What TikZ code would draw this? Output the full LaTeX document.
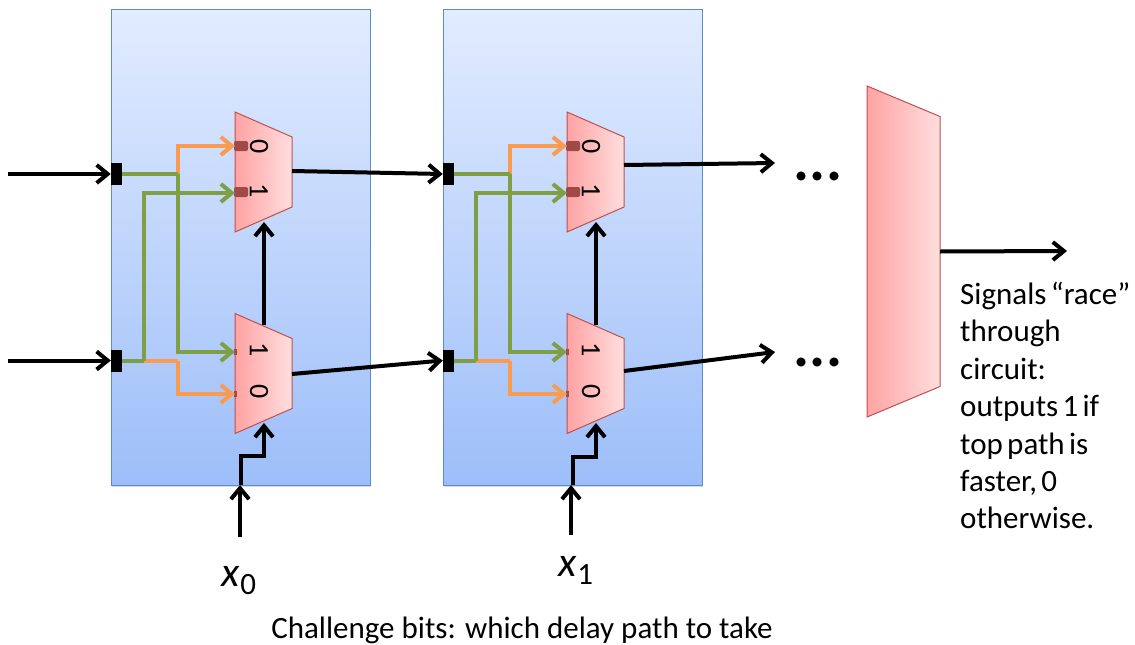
\documentclass[tikz,border=0pt]{standalone}
\usepackage{fontspec}
\setmainfont{Carlito}
\usetikzlibrary{arrows.meta,shapes.geometric,shadows}
\definecolor{blocktop}{HTML}{E2ECFF}
\definecolor{blockbot}{HTML}{9DBEF9}
\definecolor{blockedge}{HTML}{5B8DC8}
\definecolor{muxleft}{HTML}{FFA3A3}
\definecolor{muxright}{HTML}{FFDEDE}
\definecolor{muxedge}{HTML}{C0504D}
\definecolor{wiregreen}{HTML}{7F9F45}
\definecolor{wireorange}{HTML}{F99B50}
\definecolor{padbrown}{HTML}{A04A48}
\tikzset{
  >={Straight Barb[length=11pt,width=18pt]},
  blockbox/.style={rectangle, draw=blockedge, line width=1pt, minimum width=259pt, minimum height=476pt, inner sep=0pt, top color=blocktop, bottom color=blockbot, drop shadow={shadow xshift=0.5pt, shadow yshift=-2pt, opacity=0.3}},
  muxbox/.style={trapezium, shape border rotate=270, trapezium angle=66.3, draw=muxedge, line width=1pt, left color=muxleft, right color=muxright, text width=57pt, text height=70pt, text depth=0pt, inner sep=0pt, outer sep=0pt},
  bigmux/.style={muxbox, trapezium angle=67.3, text width=73pt, text height=270pt},
  portbox/.style={rectangle, fill=black, minimum width=11pt, minimum height=22pt, inner sep=0pt},
  padbox/.style={rectangle, rounded corners=2pt, fill=padbrown, minimum width=14pt, minimum height=10pt, inner sep=0pt},
  tickbox/.style={rectangle, fill=padbrown, minimum width=3pt, minimum height=6pt, inner sep=0pt},
  wire/.style={line width=4pt},
  greenwire/.style={wire, wiregreen},
  orangewire/.style={wire, wireorange},
  bitlabel/.style={rotate=-90, font=\fontsize{28}{28}\selectfont, inner sep=0pt},
  dotslabel/.style={font=\fontsize{60}{60}\bfseries\selectfont, inner sep=0pt},
  caption/.style={font=\fontsize{31}{37.4}\selectfont, inner sep=0pt}
}
\begin{document}
\begin{tikzpicture}[x=1pt, y=-1pt]
\useasboundingbox (0,0) rectangle (1135,645);

% Two delay blocks
\foreach \b/\x in {0/0,1/332} {
  \node[blockbox] (block\b) at (240.5+\x,247) {};
  \node[muxbox] (top\b) at (263.5+\x,172) {};
  \node[muxbox] (bot\b) at (263.5+\x,373.5) {};
  \node[portbox] (porta\b) at (116.5+\x,174) {};
  \node[portbox] (portb\b) at (116.5+\x,360.5) {};
  \node[padbox] (pad\b) at (241+\x,146) {};
  \node[padbox] (padd\b) at (241+\x,192) {};
  \node[tickbox] (tick\b) at (235.5+\x,352) {};
  \node[tickbox] (tickd\b) at (235.5+\x,394) {};
  \node[bitlabel] (zero\b) at (259+\x,147) {0};
  \node[bitlabel] (one\b) at (259+\x,191) {1};
  \node[bitlabel] (oneb\b) at (259+\x,350) {1};
  \node[bitlabel] (zerob\b) at (259+\x,392) {0};
  \coordinate (ina\b) at (235+\x,146);
  \coordinate (inb\b) at (235+\x,193);
  \coordinate (inc\b) at (235+\x,352);
  \coordinate (ind\b) at (235+\x,394);
  \coordinate (jta\b) at (178+\x,174);
  \coordinate (jtb\b) at (144+\x,360.5);
  \coordinate (jtc\b) at (178+\x,360.5);
  \coordinate (sela\b) at (264+\x,222);
  \coordinate (selb\b) at (264+\x,325);
  \coordinate (selc\b) at (264+\x,423);

  % Wires between ports and muxes
  \draw[orangewire, ->] (jta\b) |- (ina\b);
  \draw[orangewire] (jtb\b) -- (jtc\b);
  \draw[orangewire, ->] (jtc\b) |- (ind\b);
  \draw[greenwire] (porta\b.east) -- (jta\b);
  \draw[greenwire, ->] (jta\b) |- (inc\b);
  \draw[greenwire] (portb\b.east) -- (jtb\b);
  \draw[greenwire, ->] (jtb\b) |- (inb\b);

  % Select line
  \draw[wire, ->] (selb\b) -- (sela\b);
}

% Inputs
\coordinate (ina) at (8,174);
\coordinate (inb) at (8,360.5);
\draw[wire, ->] (ina) -- (porta0.west);
\draw[wire, ->] (inb) -- (portb0.west);

% Links between blocks
\draw[wire, ->] (292,171) -- (porta1.west);
\draw[wire, ->] (292,374) -- (portb1.west);

% Outputs of the last block
\coordinate (outa) at (775,163);
\coordinate (outb) at (775,352);
\draw[wire, ->] (624,165) -- (outa);
\draw[wire, ->] (624,371) -- (outb);
\node[dotslabel] (dotsa) at (818,176) {...};
\node[dotslabel] (dotsb) at (818,362) {...};

% Arbiter
\node[bigmux] (arbiter) at (903.5,251.5) {};
\coordinate (result) at (1067,251);
\draw[wire, ->] (arbiter.east) -- (result);

% Challenge bits
\node[inner sep=0pt, font=\fontsize{42}{42}\selectfont] (xa) at (239,581) {\textit{x}\raisebox{-8pt}{\fontsize{31}{31}\selectfont 0}};
\node[inner sep=0pt, font=\fontsize{42}{42}\selectfont] (xb) at (576,570) {\textit{x}\raisebox{-8pt}{\fontsize{31}{31}\selectfont 1}};
\coordinate (xatip) at (240,537);
\coordinate (xbtip) at (571,535);
\coordinate (edgea) at (240,485);
\coordinate (edgeb) at (571,485);
\coordinate (turna) at (241,456);
\coordinate (turnb) at (573,457);
\draw[wire, ->] (xatip) -- (edgea);
\draw[wire, ->] (xbtip) -- (edgeb);
\draw[wire, ->] (turna |- edgea) |- (264,456) -- (selc0);
\draw[wire, ->] (turnb |- edgeb) |- (596,457) -- (selc1);

% Captions
\node[caption, anchor=north west, align=left, text width=178pt] (note) at (960,282) {\spaceskip=0.14em Signals “race”\\through\\circuit:\\outputs 1 if\\top path is\\faster, 0\\otherwise.};
\node[caption] (challenge) at (522,630) {Challenge bits: which delay path to take};
\end{tikzpicture}
\end{document}
